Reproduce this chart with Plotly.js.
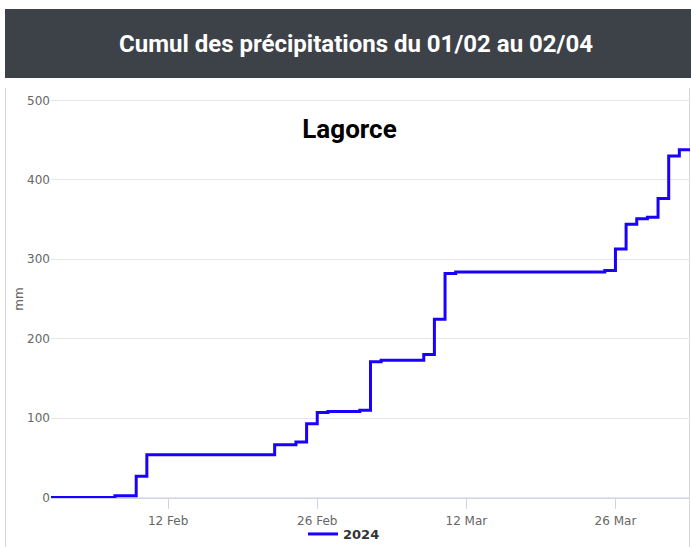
<!DOCTYPE html>
<html>
<head>
<meta charset="utf-8">
<script src="https://cdn.plot.ly/plotly-3.0.1.min.js"></script>
<style>
  html, body { margin: 0; padding: 0; background: #ffffff; }
  #chart { width: 691px; height: 547px; }
</style>
</head>
<body>
<div id="chart"></div>
<script>
// ---- Data ----
// The x axis is a generic (non-leap) reference year; only day/month are shown.
const stepDates = [
  "2023-02-01", "2023-02-07", "2023-02-09", "2023-02-10", "2023-02-22",
  "2023-02-24", "2023-02-25", "2023-02-26", "2023-02-27", "2023-03-02",
  "2023-03-03", "2023-03-04", "2023-03-08", "2023-03-09", "2023-03-10",
  "2023-03-11", "2023-03-25", "2023-03-26", "2023-03-27", "2023-03-28",
  "2023-03-29", "2023-03-30", "2023-03-31", "2023-04-01", "2023-04-02"
];
const cumulMm = [
  0, 2.5, 27, 54, 66.5,
  70, 93, 107, 108.5, 110,
  171, 173, 180, 224.5, 282,
  284, 286, 313, 344, 351,
  353, 376.5, 430, 438, 438
];
const seriesName = "2024";
const xTickDates = ["2023-02-12", "2023-02-26", "2023-03-12", "2023-03-26"];
const xTickLabels = ["12 Feb", "26 Feb", "12 Mar", "26 Mar"];
const yTickVals = [0, 100, 200, 300, 400, 500];
const chartTitle = "Lagorce";
const headerTitle = "Cumul des précipitations du 01/02 au 02/04";
const yAxisTitle = "mm";

// ---- Geometry helpers (pixel -> paper) ----
const W = 691, H = 547;
const M = { l: 51, r: 1, t: 98, b: 47 };
const PW = W - M.l - M.r, PH = H - M.t - M.b;
const px = x => (x - M.l) / PW;
const py = y => (H - M.b - y) / PH;

const tickFont = { family: "DejaVu Sans, Verdana, sans-serif", size: 12, color: "#666666" };

const trace = {
  type: "scatter",
  mode: "lines",
  x: stepDates,
  y: cumulMm,
  name: seriesName,
  line: { shape: "hv", color: "#1a00ff", width: 3 },
  hoverinfo: "x+y"
};

const layout = {
  width: W,
  height: H,
  margin: { l: M.l, r: M.r, t: M.t, b: M.b, pad: 0, autoexpand: false },
  paper_bgcolor: "#ffffff",
  plot_bgcolor: "#ffffff",
  title: {
    text: chartTitle,
    x: 349.5 / W, xanchor: "center",
    y: 1 - 129 / H, yanchor: "middle",
    xref: "container", yref: "container",
    font: { family: "Roboto, sans-serif", size: 26, color: "#000000", weight: "bold" }
  },
  xaxis: {
    type: "date",
    range: ["2023-02-01", "2023-04-02"],
    tickvals: xTickDates,
    ticktext: xTickLabels,
    ticks: "outside",
    ticklen: 10,
    tickwidth: 1,
    tickcolor: "#ccd6eb",
    ticklabelstandoff: 2,
    showgrid: false,
    showline: true,
    linecolor: "#ccd6eb",
    linewidth: 1,
    zeroline: false,
    anchor: "free",
    position: py(497.6),
    automargin: false,
    tickfont: tickFont,
    fixedrange: true
  },
  yaxis: {
    range: [-3, 503],
    tickvals: yTickVals,
    showgrid: true,
    gridcolor: "#e6e6e6",
    gridwidth: 1,
    zeroline: false,
    showline: false,
    ticks: "",
    automargin: false,
    tickfont: tickFont,
    title: {
      text: yAxisTitle,
      font: tickFont,
      standoff: 0
    },
    fixedrange: true
  },
  showlegend: true,
  legend: {
    orientation: "h",
    x: px(303), xanchor: "left",
    y: py(534), yanchor: "middle",
    bgcolor: "rgba(0,0,0,0)",
    borderwidth: 0,
    itemwidth: 30,
    font: { family: "DejaVu Sans, Verdana, sans-serif", size: 13, color: "#333333", weight: "bold" }
  },
  shapes: [
    { type: "rect", xref: "paper", yref: "paper", layer: "below",
      x0: px(5), x1: px(691), y0: py(78), y1: py(9),
      fillcolor: "#3d4148", line: { width: 0 } },
    { type: "line", xref: "paper", yref: "paper", layer: "below",
      x0: px(5.5), x1: px(5.5), y0: py(88), y1: py(547),
      line: { color: "#d6d6d6", width: 1 } },
    { type: "line", xref: "paper", yref: "paper", layer: "below",
      x0: px(689.5), x1: px(689.5), y0: py(88), y1: py(547),
      line: { color: "#d6d6d6", width: 1 } }
  ],
  annotations: [
    { text: headerTitle, xref: "paper", yref: "paper",
      x: px(356), y: py(43.5), xanchor: "center", yanchor: "middle",
      showarrow: false,
      font: { family: "Roboto, sans-serif", size: 24, color: "#ffffff", weight: "bold" } }
  ]
};

Plotly.newPlot("chart", [trace], layout, { displayModeBar: false, staticPlot: true });
</script>
</body>
</html>
